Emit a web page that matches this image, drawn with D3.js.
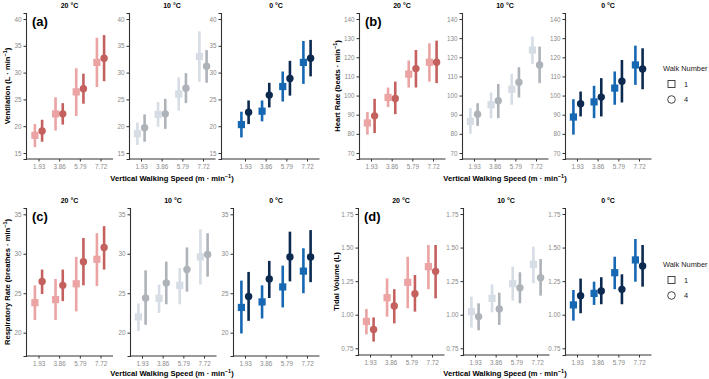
<!DOCTYPE html>
<html>
<head>
<meta charset="utf-8">
<script src="https://cdn.jsdelivr.net/npm/d3@7"></script>
<style>
  body { margin: 0; background: #fff; }
  text { font-family: "Liberation Sans", Arial, sans-serif; }
</style>
</head>
<body>
<script>
// categories
const speeds = ["1.93", "3.86", "5.79", "7.72"];
const temps = ["20 °C", "10 °C", "0 °C"];
const walks = ["1", "4"];

// [mean, low, high] for each speed, one row per temperature (20, 10, 0 °C)
const ventW1 = [
  [[18.3, 16.1, 20.4], [22.3, 19.2, 25.4], [26.4, 21.9, 30.8], [31.9, 27.3, 36.5]],
  [[18.6, 16.5, 20.7], [22.2, 19.9, 24.5], [26.0, 22.9, 29.1], [33.0, 28.3, 37.7]],
  [[20.3, 17.9, 22.7], [22.8, 20.9, 24.8], [27.4, 24.6, 30.2], [31.9, 27.9, 35.9]]
];
const ventW4 = [
  [[19.1, 17.1, 21.2], [22.3, 20.3, 24.3], [27.0, 24.2, 29.8], [32.7, 28.4, 37.0]],
  [[19.7, 17.1, 22.2], [22.3, 19.5, 25.1], [27.1, 24.3, 29.9], [31.2, 28.1, 34.2]],
  [[22.6, 20.4, 24.8], [25.8, 23.5, 28.1], [28.9, 25.7, 32.2], [32.7, 29.3, 36.1]]
];
const hrW1 = [
  [[85.7, 79.6, 91.4], [99.0, 94.0, 104.2], [111.2, 104.2, 118.3], [117.4, 107.3, 127.3]],
  [[86.5, 80.0, 93.4], [95.2, 88.2, 101.6], [103.3, 95.2, 111.3], [123.8, 116.6, 130.8]],
  [[88.8, 79.6, 98.1], [96.7, 88.2, 105.1], [103.9, 95.2, 112.6], [116.0, 105.6, 126.1]]
];
const hrW4 = [
  [[89.4, 80.4, 98.3], [98.5, 90.3, 107.3], [114.1, 104.2, 123.8], [117.4, 106.5, 128.7]],
  [[90.3, 84.2, 96.0], [97.3, 88.2, 106.1], [107.0, 99.0, 114.8], [116.0, 106.5, 125.6]],
  [[95.7, 89.1, 102.1], [99.2, 89.1, 109.1], [107.5, 96.4, 118.6], [113.9, 103.3, 124.7]]
];
const rrW1 = [
  [[23.8, 21.6, 26.0], [24.2, 21.6, 26.8], [26.2, 22.7, 29.6], [29.3, 25.9, 32.6]],
  [[22.0, 20.2, 23.7], [24.35, 22.5, 26.1], [26.0, 23.6, 28.2], [29.6, 26.1, 33.1]],
  [[23.2, 19.9, 26.6], [23.9, 21.8, 26.0], [25.8, 23.2, 28.5], [27.8, 25.0, 30.7]]
];
const rrW4 = [
  [[26.5, 24.9, 28.0], [26.0, 24.0, 28.0], [29.0, 26.0, 32.0], [30.8, 28.0, 33.5]],
  [[24.4, 21.0, 27.9], [26.3, 23.6, 29.0], [28.0, 25.2, 30.8], [29.9, 27.1, 32.6]],
  [[24.6, 21.5, 27.7], [26.8, 24.4, 29.1], [29.6, 26.5, 32.8], [29.6, 26.4, 33.0]]
];
const tvW1 = [
  [[0.95, 0.854, 1.043], [1.127, 0.986, 1.27], [1.241, 1.048, 1.432], [1.358, 1.19, 1.519]],
  [[1.023, 0.904, 1.135], [1.122, 1.018, 1.226], [1.231, 1.105, 1.358], [1.375, 1.234, 1.507]],
  [[1.073, 0.956, 1.184], [1.159, 1.073, 1.246], [1.313, 1.19, 1.432], [1.408, 1.246, 1.564]]
];
const tvW4 = [
  [[0.89, 0.80, 0.98], [1.065, 0.936, 1.19], [1.157, 1.023, 1.296], [1.323, 1.122, 1.519]],
  [[0.986, 0.884, 1.085], [1.043, 0.924, 1.164], [1.20, 1.085, 1.316], [1.276, 1.142, 1.415]],
  [[1.142, 1.011, 1.269], [1.177, 1.078, 1.279], [1.189, 1.078, 1.301], [1.363, 1.209, 1.519]]
];

// tick labels
const ventTicks = [15, 20, 25, 30, 35, 40];
const hrTicks = [70, 80, 90, 100, 110, 120, 130, 140];
const rrTicks = [20, 25, 30, 35];
const tvTicks = [0.75, 1.00, 1.25, 1.50, 1.75];

// colours: [walk 1, walk 4] per temperature
const colours = [
  ["#eba3a3", "#c4615f"],
  ["#d6dde5", "#aeb3b9"],
  ["#1768b3", "#0c2a4f"]
];

var svg = d3.select("body")
  .append("svg")
    .attr("width", 709)
    .attr("height", 379);

var groups = [
  { label: "(a)", title: "Ventilation (L · min", unit: ")", w1: ventW1, w4: ventW4, ticks: ventTicks, fmt: d3.format("d"),
    ox: 0, top: 13, bottom: 159, tickPx: [153, 19], lefts: [26, 129, 221], firsts: [38.5, 141, 245], yt: 7, xt: 172, xtY: 181, titleY: 8 },
  { label: "(b)", title: "Heart Rate (beats · min", unit: ")", w1: hrW1, w4: hrW4, ticks: hrTicks, fmt: d3.format("d"),
    ox: 0, top: 13, bottom: 159, tickPx: [153, 19], lefts: [359, 462, 565], firsts: [371, 474, 577], yt: 337, xt: 505, xtY: 181, titleY: 8 },
  { label: "(c)", title: "Respiratory Rate (breathes · min", unit: ")", w1: rrW1, w4: rrW4, ticks: rrTicks, fmt: d3.format("d"),
    ox: 0, top: 208, bottom: 356, tickPx: [332.7, 214.3], lefts: [26, 130, 233], firsts: [38.5, 142, 245], yt: 7, xt: 172, xtY: 376, titleY: 203 },
  { label: "(d)", title: "Tidal Volume (L", unit: ")", w1: tvW1, w4: tvW4, ticks: tvTicks, fmt: d3.format(".2f"), noSup: true,
    ox: 0, top: 208, bottom: 355, tickPx: [348.3, 214], lefts: [358, 463, 565], firsts: [370, 475, 577], yt: 336, xt: 505, xtY: 376, titleY: 203 }
];

groups.forEach(function(gr) {
  var t0 = gr.ticks[0], t1 = gr.ticks[gr.ticks.length - 1];
  var y = d3.scaleLinear().domain([t0, t1]).range(gr.tickPx);
  y.domain([y.invert(gr.bottom), y.invert(gr.top)]).range([gr.bottom, gr.top]);

  temps.forEach(function(temp, ti) {
    var left = gr.lefts[ti];
    var first = gr.firsts[ti];
    var x = d3.scalePoint().domain(speeds).range([first, first + 62]);
    var right = first + 62 + 12.5;
    var g = svg.append("g");

    // y axis
    var ya = g.append("g")
      .attr("transform", "translate(" + left + ",0)")
      .call(d3.axisLeft(y).tickValues(gr.ticks).tickFormat(gr.fmt).tickSizeOuter(0).tickSize(2.5).tickPadding(2));
    ya.select(".domain").attr("stroke", "#333").attr("stroke-width", 1.1);
    ya.selectAll(".tick line").attr("stroke", "#333");
    ya.selectAll(".tick text").attr("fill", "#8a8a8a").style("font-size", "6.3px");

    // x axis
    var xa = g.append("g")
      .attr("transform", "translate(0," + gr.bottom + ")")
      .call(d3.axisBottom(x).tickSizeOuter(0).tickSize(2.5).tickPadding(3));
    xa.select(".domain").remove();
    xa.selectAll(".tick line").attr("stroke", "#333");
    xa.selectAll(".tick text").attr("fill", "#8a8a8a").style("font-size", "6.3px");
    g.append("line")
      .attr("x1", left).attr("x2", right)
      .attr("y1", gr.bottom).attr("y2", gr.bottom)
      .attr("stroke", "#333").attr("stroke-width", 1.1);

    // facet title
    g.append("text")
      .attr("x", (first + first + 62) / 2)
      .attr("y", gr.titleY)
      .attr("text-anchor", "middle")
      .style("font-size", "7px")
      .style("font-weight", "bold")
      .text(temp);

    // walks: 1 = square, 4 = circle
    [gr.w1[ti], gr.w4[ti]].forEach(function(rows, wi) {
      var dx = wi === 0 ? -3.6 : 3.6;
      var col = colours[ti][wi];
      var pts = g.selectAll(".w" + wi)
        .data(rows)
        .enter()
        .append("g")
          .attr("class", "w" + wi);

      pts.append("line")
        .attr("x1", function(d, i) { return x(speeds[i]) + dx; })
        .attr("x2", function(d, i) { return x(speeds[i]) + dx; })
        .attr("y1", function(d) { return y(d[1]); })
        .attr("y2", function(d) { return y(d[2]); })
        .attr("stroke", col)
        .attr("stroke-width", 2.6);

      if (wi === 0) {
        pts.append("rect")
          .attr("x", function(d, i) { return x(speeds[i]) + dx - 3.6; })
          .attr("y", function(d) { return y(d[0]) - 3.6; })
          .attr("width", 7.2)
          .attr("height", 7.2)
          .attr("fill", col);
      } else {
        pts.append("circle")
          .attr("cx", function(d, i) { return x(speeds[i]) + dx; })
          .attr("cy", function(d) { return y(d[0]); })
          .attr("r", 3.7)
          .attr("fill", col);
      }
    });
  });

  // panel letter
  svg.append("text")
    .attr("x", gr.lefts[0] + 6)
    .attr("y", gr.top + 13)
    .style("font-size", "13px")
    .style("font-weight", "bold")
    .text(gr.label);

  // y title
  var yt = svg.append("text")
    .attr("transform", "translate(" + gr.yt + "," + ((gr.top + gr.bottom) / 2) + ") rotate(-90)")
    .attr("text-anchor", "middle")
    .attr("dy", "0.35em")
    .style("font-size", "7.6px")
    .style("font-weight", "bold");
  if (gr.noSup) {
    yt.text(gr.title + gr.unit);
  } else {
    yt.append("tspan").text(gr.title);
    yt.append("tspan").attr("dy", -3).style("font-size", "5.5px").text("−1");
    yt.append("tspan").attr("dy", 3).text(gr.unit);
  }

  // x title
  var xt = svg.append("text")
    .attr("x", gr.xt)
    .attr("y", gr.xtY)
    .attr("text-anchor", "middle")
    .style("font-size", "7.6px")
    .style("font-weight", "bold");
  xt.append("tspan").text("Vertical Walking Speed (m · min");
  xt.append("tspan").attr("dy", -3).style("font-size", "5.5px").text("−1");
  xt.append("tspan").attr("dy", 3).text(")");
});

// legends
[68, 264].forEach(function(ly) {
  var lg = svg.append("g").attr("transform", "translate(663," + ly + ")");
  lg.append("text")
    .attr("y", 3)
    .attr("fill", "#222")
    .style("font-size", "7.4px")
    .text("Walk Number");
  walks.forEach(function(w, i) {
    var cy = 16 + i * 15.5;
    if (i === 0) {
      lg.append("rect")
        .attr("x", 5).attr("y", cy - 3.5)
        .attr("width", 7).attr("height", 7)
        .attr("fill", "none").attr("stroke", "#333").attr("stroke-width", 0.9);
    } else {
      lg.append("circle")
        .attr("cx", 8.5).attr("cy", cy).attr("r", 3.8)
        .attr("fill", "none").attr("stroke", "#333").attr("stroke-width", 0.9);
    }
    lg.append("text")
      .attr("x", 21).attr("y", cy + 2.5)
      .attr("fill", "#222")
      .style("font-size", "7.4px")
      .text(w);
  });
});
</script>
</body>
</html>
